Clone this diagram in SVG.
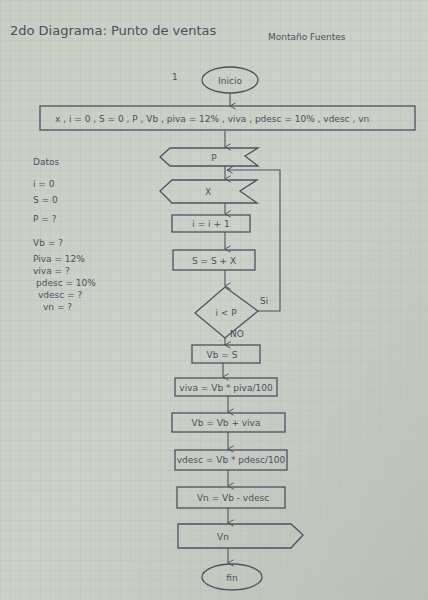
<svg xmlns="http://www.w3.org/2000/svg" width="428" height="600" viewBox="0 0 428 600">
<defs>
<linearGradient id="bg" x1="0" y1="0" x2="1" y2="1">
<stop offset="0" stop-color="#c9cdc4"/>
<stop offset="0.5" stop-color="#cdd1c9"/>
<stop offset="1" stop-color="#b9bfb6"/>
</linearGradient>
<pattern id="grid" width="10" height="10" patternUnits="userSpaceOnUse">
<path d="M10 0 L0 0 0 10" fill="none" stroke="#b3bab0" stroke-width="0.6"/>
</pattern>
<marker id="ah" viewBox="0 0 10 10" refX="5" refY="9" markerWidth="8" markerHeight="8" orient="auto-start-reverse" markerUnits="userSpaceOnUse">
<path d="M1 2 L5 9 L9 2" fill="none" stroke="#4c5262" stroke-width="1.2"/>
</marker>
<marker id="ahl" viewBox="0 0 10 10" refX="9" refY="5" markerWidth="8" markerHeight="8" orient="auto" markerUnits="userSpaceOnUse">
<path d="M2 1 L9 5 L2 9" fill="none" stroke="#4c5262" stroke-width="1.2"/>
</marker>
</defs>
<style>
.s{fill:none;stroke:#4c5262;stroke-width:1.3}
.t{font-family:"DejaVu Sans","Liberation Sans",sans-serif;fill:#4a5060;font-size:9px}
.c{text-anchor:middle}
.h{font-size:13px}
.l{stroke:#4c5262;stroke-width:1.1;fill:none}
</style>
<rect width="428" height="600" fill="url(#bg)"/>
<rect width="428" height="600" fill="url(#grid)"/>

<g id="title">
<text class="t h" x="10" y="35">2do Diagrama: Punto de ventas</text>
<text class="t" x="268" y="40" font-size="10">Montaño Fuentes</text>
<text class="t" x="172" y="80" font-size="9">1</text>
</g>

<g id="datos">
<text class="t" x="33" y="165" font-size="10">Datos</text>
<text class="t" x="33" y="187" font-size="10">i = 0</text>
<text class="t" x="33" y="203" font-size="10">S = 0</text>
<text class="t" x="33" y="222" font-size="10">P = ?</text>
<text class="t" x="33" y="246">Vb = ?</text>
<text class="t" x="33" y="262" font-size="8">Piva = 12%</text>
<text class="t" x="33" y="274" font-size="8">viva = ?</text>
<text class="t" x="36" y="286" font-size="8">pdesc = 10%</text>
<text class="t" x="38" y="298" font-size="8">vdesc = ?</text>
<text class="t" x="43" y="310" font-size="8">vn = ?</text>
</g>

<g id="connectors">
<line class="l" x1="230" y1="93" x2="230" y2="106" marker-end="url(#ah)"/>
<line class="l" x1="225" y1="131" x2="225" y2="147" marker-end="url(#ah)"/>
<line class="l" x1="225" y1="166" x2="225" y2="179" marker-end="url(#ah)"/>
<polyline class="l" points="258,311 280,311 280,170 227,170" marker-end="url(#ahl)"/>
<line class="l" x1="225" y1="203" x2="225" y2="214" marker-end="url(#ah)"/>
<line class="l" x1="225" y1="232" x2="225" y2="249" marker-end="url(#ah)"/>
<line class="l" x1="225" y1="270" x2="225" y2="286" marker-end="url(#ah)"/>
<line class="l" x1="225" y1="338" x2="225" y2="345" marker-end="url(#ah)"/>
<line class="l" x1="223" y1="363" x2="223" y2="377" marker-end="url(#ah)"/>
<line class="l" x1="228" y1="396" x2="228" y2="412" marker-end="url(#ah)"/>
<line class="l" x1="228" y1="432" x2="228" y2="449" marker-end="url(#ah)"/>
<line class="l" x1="228" y1="470" x2="228" y2="486" marker-end="url(#ah)"/>
<line class="l" x1="228" y1="508" x2="228" y2="523" marker-end="url(#ah)"/>
<line class="l" x1="228" y1="548" x2="228" y2="563" marker-end="url(#ah)"/>
<text class="t" x="260" y="304" font-size="8">Si</text>
<text class="t" x="230" y="337" font-size="7">NO</text>
</g>

<g id="inicio">
<ellipse class="s" cx="230" cy="80" rx="28" ry="13"/>
<text class="t c" x="230" y="84" font-size="9">Inicio</text>
</g>

<g id="declarar">
<rect class="s" x="40" y="106" width="375" height="24"/>
<text class="t" x="55" y="122" font-size="8.5">x , i = 0 , S = 0 , P , Vb , piva = 12% , viva , pdesc = 10% , vdesc , vn</text>
</g>

<g id="leerP">
<polygon class="s" points="170,148 258,148 245,156 258,166 170,166 160,157"/>
<text class="t c" x="214" y="161">P</text>
</g>

<g id="leerX">
<polygon class="s" points="172,180 257,180 240,191 257,203 172,203 160,191"/>
<text class="t c" x="208" y="195">X</text>
</g>

<g id="incI">
<rect class="s" x="172" y="215" width="78" height="17"/>
<text class="t c" x="211" y="227">i = i + 1</text>
</g>

<g id="sumaS">
<rect class="s" x="173" y="250" width="82" height="20"/>
<text class="t c" x="214" y="264">S = S + X</text>
</g>

<g id="decision">
<polygon class="s" points="225,287 258,311 225,338 195,313"/>
<text class="t c" x="226" y="316">i &lt; P</text>
</g>

<g id="vbS">
<rect class="s" x="192" y="345" width="68" height="18"/>
<text class="t c" x="222" y="358">Vb = S</text>
</g>

<g id="viva">
<rect class="s" x="175" y="378" width="102" height="18"/>
<text class="t c" x="226" y="391" font-size="8">viva = Vb * piva/100</text>
</g>

<g id="vbViva">
<rect class="s" x="172" y="413" width="113" height="19"/>
<text class="t c" x="226" y="426">Vb = Vb + viva</text>
</g>

<g id="vdesc">
<rect class="s" x="175" y="450" width="112" height="20"/>
<text class="t c" x="231" y="463" font-size="7.5">vdesc = Vb * pdesc/100</text>
</g>

<g id="vn">
<rect class="s" x="177" y="487" width="108" height="21"/>
<text class="t c" x="233" y="501">Vn = Vb - vdesc</text>
</g>

<g id="salida">
<polygon class="s" points="178,524 291,524 303,535 291,548 178,548"/>
<text class="t c" x="223" y="540">Vn</text>
</g>

<g id="fin">
<ellipse class="s" cx="232" cy="577" rx="30" ry="13"/>
<text class="t c" x="232" y="581" font-size="9">fin</text>
</g>
</svg>
